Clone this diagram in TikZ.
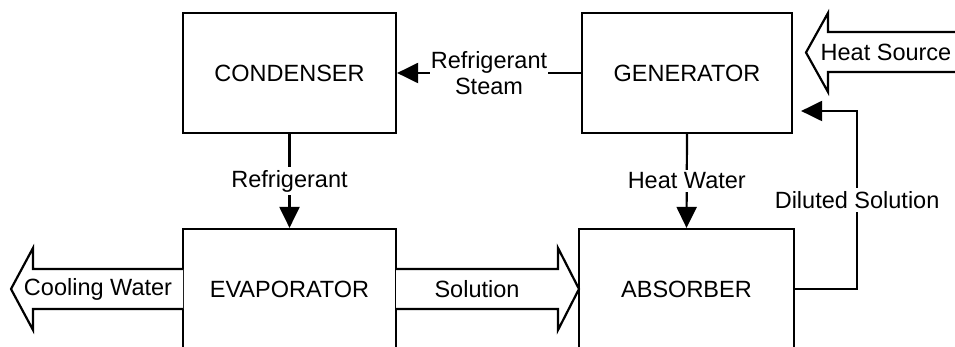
\documentclass[tikz,border=0pt]{standalone}
\usepackage{fontspec}
\setmainfont{Liberation Sans}
\usetikzlibrary{arrows.meta,calc}
\begin{document}
\begin{tikzpicture}[x=1pt,y=-1pt,
  font=\fontsize{23.5}{28}\selectfont,
  box/.style={draw, line width=2.2pt, minimum height=120pt, inner sep=0pt},
  conn/.style={line width=2.2pt, -{Triangle[length=21pt,width=20pt]}},
  lbl/.style={fill=white, inner sep=3pt, align=center},
  blockarrow/.style={draw, line width=2.2pt, fill=white, line join=miter},
  txt/.style={inner sep=0pt}]
\clip (0,0) rectangle (955,347);
\fill[white] (0,0) rectangle (955,347);

% boxes
\node[box, minimum width=213pt] (cond) at (289.5,73) {CONDENSER};
\node[box, minimum width=210pt] (gen)  at (687,73)   {GENERATOR};
\node[box, minimum width=213pt] (evap) at (289.5,289) {EVAPORATOR};
\node[box, minimum width=215pt] (abs)  at (686.5,289) {ABSORBER};

% block arrows
\draw[blockarrow] (183,269) -- (33,269) -- (33,248) -- (11,289) -- (33,330) -- (33,309) -- (183,309);
\node[txt] (cw) at (98,289) {Cooling Water};

\draw[blockarrow] (396,269) -- (558,269) -- (558,248) -- (579,289) -- (558,330) -- (558,309) -- (396,309);
\node[txt] (sol) at (477,289) {Solution};

\draw[blockarrow] (965,32) -- (828,32) -- (828,13) -- (806,52.5) -- (828,92) -- (828,72) -- (965,72);
\node[txt] (hs) at (886,52) {Heat Source};

% connectors
\coordinate (gin) at ([yshift=-38pt]gen.east);
\draw[conn] (gen.west) -- node[lbl, inner sep=1pt] (rs) {Refrigerant\\[-2pt]Steam} (cond.east);
\draw[conn] (cond.south) -- node[lbl] (rf) {Refrigerant} (evap.north);
\draw[conn] (gen.south) -- node[lbl] (hw) {Heat Water} (abs.north);
\draw[conn, shorten >=8pt] (abs.east) -- ++(62,0) coordinate (dc)
   -- node[lbl] (ds) {Diluted Solution} (dc |- gin) -- (gin);
\end{tikzpicture}
\end{document}
